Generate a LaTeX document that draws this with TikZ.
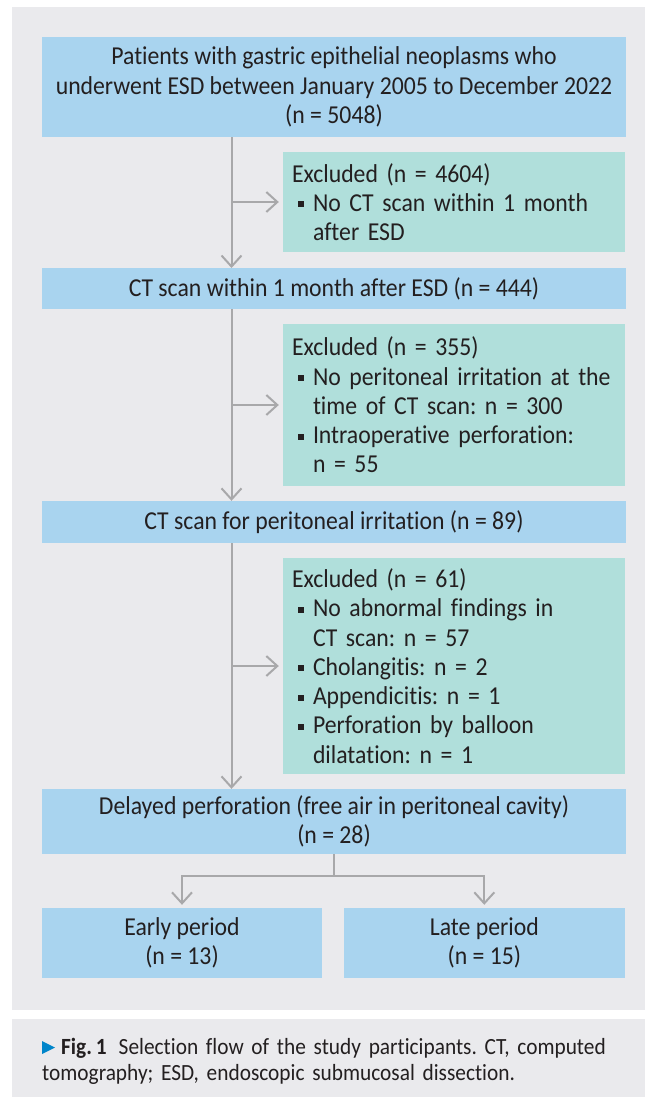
\documentclass[tikz,border=0pt]{standalone}
\usepackage{fontspec}
\setmainfont{Carlito}[FakeStretch=0.92, Ligatures=NoCommon]
\usetikzlibrary{arrows.meta}
\definecolor{panel}{RGB}{234,234,237}
\definecolor{bluebox}{RGB}{169,212,239}
\definecolor{tealbox}{RGB}{176,223,219}
\definecolor{arrowgrey}{RGB}{168,168,170}
\definecolor{txt}{RGB}{35,31,32}
\definecolor{capblue}{RGB}{0,133,202}
\newcommand\boxfont{\fontsize{25.8}{29.3}\selectfont\frenchspacing}
\newcommand\capfont{\fontsize{23.2}{26}\selectfont\frenchspacing}
\newcommand\bitem{\hspace*{6pt}\raisebox{4pt}{\rule{6pt}{6pt}}\hspace*{9pt}}
\newcommand\cont{\hspace*{21pt}}
\tikzset{
  bbox/.style={fill=bluebox, minimum width=584pt, align=center, font=\boxfont},
  exbox/.style={fill=tealbox, text width=323.6pt, inner xsep=9pt, inner ysep=0pt, align=left, font=\boxfont},
  ln/.style={draw=arrowgrey, line width=2pt},
  arr/.style={ln, -{Straight Barb[length=11pt,width=20pt]}},
}
\begin{document}
\begin{tikzpicture}[x=1pt,y=-1pt, every node/.style={text=txt, inner sep=0pt}]
\useasboundingbox (0,0) rectangle (657,1102);
\fill[white] (0,0) rectangle (657,1102);
\fill[panel] (12,7) rectangle (645,1010);
\fill[panel] (12,1019) rectangle (645,1097);

\node[bbox, minimum height=100pt] (top) at (334,87)
  {Patients with gastric epithelial neoplasms who\\underwent ESD between January 2005 to December 2022\\(n = 5048)};
\node[exbox, minimum height=100pt] (ex1) at (453.8,202)
  {Excluded (n = 4604)\\\bitem No CT scan within 1 month\\\cont after ESD};
\node[bbox, minimum height=41pt] (b2) at (334,288.7)
  {CT scan within 1 month after ESD (n = 444)};
\node[exbox, minimum height=162pt] (ex2) at (453.8,405)
  {Excluded (n = 355)\\\bitem No peritoneal irritation at the\\\cont time of CT scan: n = 300\\\bitem Intraoperative perforation:\\\cont n = 55};
\node[bbox, minimum height=42pt] (b3) at (334,522)
  {CT scan for peritoneal irritation (n = 89)};
\node[exbox, minimum height=216pt] (ex3) at (453.8,666)
  {Excluded (n = 61)\\\bitem No abnormal findings in\\\cont CT scan: n = 57\\\bitem Cholangitis: n = 2\\\bitem Appendicitis: n = 1\\\bitem Perforation by balloon\\\cont dilatation: n = 1};
\node[bbox, minimum height=65pt] (b4) at (334,821.5)
  {Delayed perforation (free air in peritoneal cavity)\\(n = 28)};
\node[bbox, minimum width=280pt, minimum height=70pt] (early) at (182,943)
  {Early period\\(n = 13)};
\node[bbox, minimum width=280.6pt, minimum height=70pt] (late) at (484.3,943)
  {Late period\\(n = 15)};

% main stem
\draw[arr] ([xshift=-102.5pt]top.south) -- ([xshift=-102.5pt]b2.north);
\draw[arr, shorten >=4pt] ([xshift=-102.5pt]top.south |- ex1.west) -- (ex1.west);
\draw[arr] ([xshift=-102.5pt]b2.south) -- ([xshift=-102.5pt]b3.north);
\draw[arr, shorten >=4pt] ([xshift=-102.5pt]b2.south |- ex2.west) -- (ex2.west);
\draw[arr] ([xshift=-102.5pt]b3.south) -- ([xshift=-102.5pt]b4.north);
\draw[arr, shorten >=4pt] ([xshift=-102.5pt]b3.south |- ex3.west) -- (ex3.west);

% branch
\coordinate (bj) at (334,876);
\draw[ln] (b4.south) -- (bj);
\draw[arr, shorten >=3pt] (bj) -| (early.north);
\draw[arr, shorten >=3pt] (bj) -| (late.north);

% caption
\fill[capblue] (42,1041) -- (55,1047.5) -- (42,1054) -- cycle;
\node[anchor=west, text width=600pt, align=left, font=\capfont] (cap) at (42,1061)
  {\hspace*{19pt}\textbf{Fig.\,1}\hspace{12pt}Selection flow of the study participants. CT, computed\\tomography; ESD, endoscopic submucosal dissection.};
\end{tikzpicture}
\end{document}
